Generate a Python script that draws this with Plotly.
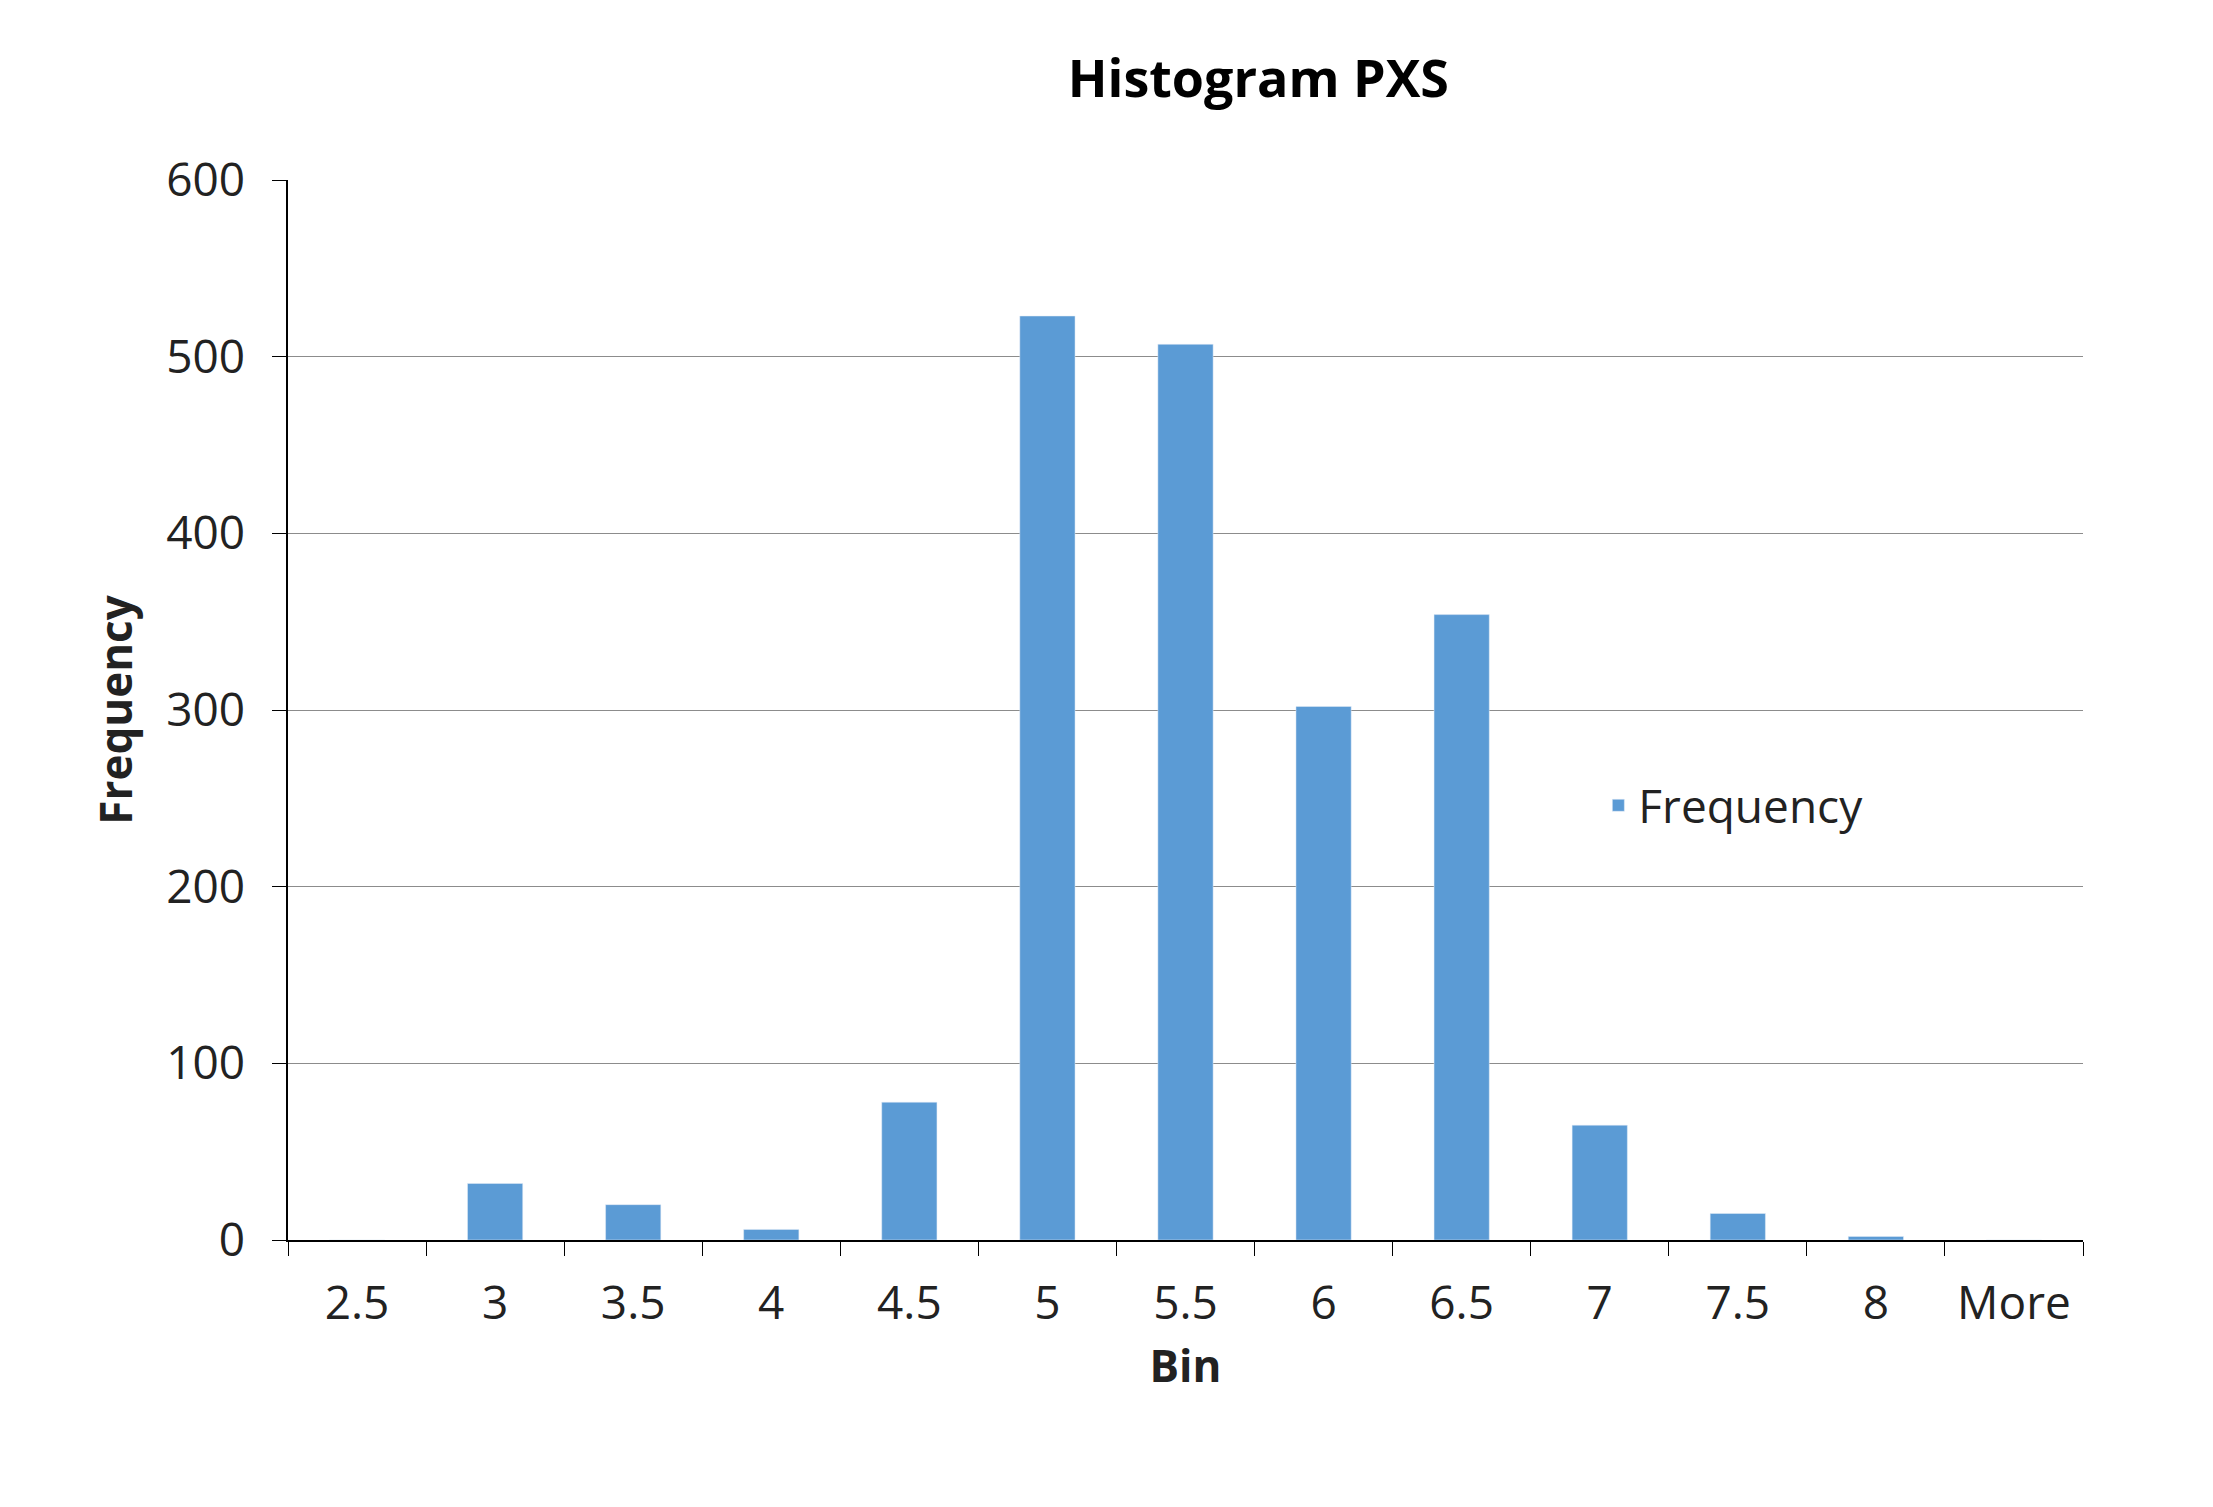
import plotly.graph_objects as go

bins = ["2.5", "3", "3.5", "4", "4.5", "5", "5.5", "6", "6.5", "7", "7.5", "8", "More"]
frequency = [0, 32, 20, 6, 78, 523, 507, 302, 354, 65, 15, 2, 0]

fig = go.Figure()
fig.add_trace(go.Bar(x=bins, y=frequency, name="Frequency", marker_color="#5B9BD5", width=0.4))

font = "Open Sans, Liberation Sans, sans-serif"
fig.update_layout(
    width=2213, height=1507,
    paper_bgcolor="white", plot_bgcolor="white",
    margin=dict(l=280, r=138, t=172, b=275),
    title=dict(text="<b>Histogram PXS</b>", x=0.565, xanchor="center", y=0.953, yanchor="middle",
               font=dict(family=font, size=52, color="black")),
    font=dict(family=font, size=46, color="#222"),
    showlegend=True,
    legend=dict(x=0.73, y=0.41, xanchor="left", yanchor="middle", font=dict(size=46, color="#222"),
                bgcolor="rgba(0,0,0,0)"),
    xaxis=dict(type="category", showline=True, linecolor="black", linewidth=1.5,
               ticks="outside", tickson="boundaries", ticklen=14, tickcolor="black",
               showgrid=False, ticklabelstandoff=22,
               title=dict(text="<b>Bin</b>", font=dict(size=44, color="#222"), standoff=20)),
    yaxis=dict(range=[0, 600], dtick=100, showline=True, linecolor="black", linewidth=1.5,
               ticks="outside", ticklen=14, tickcolor="black", ticklabelstandoff=18,
               showgrid=True, gridcolor="#8c8c8c", gridwidth=1.3, zeroline=False,
               title=dict(text="<b>Frequency</b>", font=dict(size=44, color="#222"), standoff=20)),
    bargap=0.6,
)
fig.write_html("out.html")
